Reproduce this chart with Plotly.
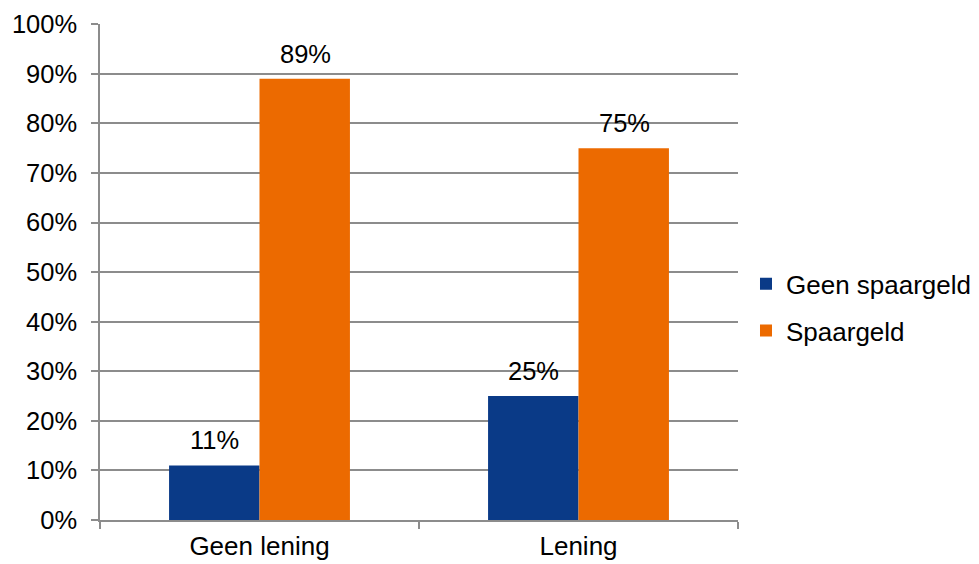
import plotly.graph_objects as go

# Survey shares: savings status split by whether a loan was taken
categories = ["Geen lening", "Lening"]
geen_spaargeld = [0.11, 0.25]
spaargeld = [0.89, 0.75]
series_names = ["Geen spaargeld", "Spaargeld"]
y_ticks = [i / 10 for i in range(11)]

BLUE = "#0a3a87"
ORANGE = "#ec6a00"
GRID = "#8c8c8c"
FONT = "Liberation Sans, Arial, sans-serif"

fig = go.Figure()
fig.add_trace(go.Bar(x=categories, y=geen_spaargeld, name=series_names[0],
                     marker=dict(color=BLUE, line=dict(width=0)),
                     legendgroup="a", offsetgroup="a"))
fig.add_trace(go.Bar(x=categories, y=spaargeld, name=series_names[1],
                     marker=dict(color=ORANGE, line=dict(width=0)),
                     legendgroup="b", offsetgroup="b"))

# Value labels above each bar
for j, vals in enumerate([geen_spaargeld, spaargeld]):
    for i, v in enumerate(vals):
        fig.add_annotation(
            x=i, y=v, xref="x", yref="y",
            xshift=(-45.5 if j == 0 else 45.5),
            yshift=9, yanchor="bottom", showarrow=False,
            text=f"{round(v * 100)}%",
            font=dict(family=FONT, size=25.5, color="#000000"),
        )

fig.update_layout(
    width=979, height=564,
    margin=dict(l=100, r=241, t=24, b=44),
    paper_bgcolor="white", plot_bgcolor="white",
    barmode="group", bargap=0.433, bargroupgap=0,
    font=dict(family=FONT, size=26, color="#000000"),
    showlegend=True,
    legend=dict(x=0.762, y=0.455, xref="container", yref="container",
                xanchor="left", yanchor="middle",
                traceorder="grouped", tracegroupgap=10,
                font=dict(family=FONT, size=26, color="#000000"),
                itemwidth=30, bgcolor="rgba(0,0,0,0)"),
)

fig.update_xaxes(
    type="category", showgrid=False, showline=True, linecolor=GRID, linewidth=1.5,
    ticks="outside", tickson="boundaries", ticklen=7, tickcolor=GRID, tickwidth=1.5,
    ticklabelstandoff=2, automargin=False,
    tickfont=dict(family=FONT, size=26, color="#000000"),
)
fig.update_yaxes(
    range=[0, 1.0005], tickvals=y_ticks, tickformat=".0%",
    showgrid=True, gridcolor=GRID, gridwidth=1.5,
    showline=True, linecolor=GRID, linewidth=1.5, zeroline=False,
    ticks="outside", ticklen=7, tickcolor=GRID, tickwidth=1.5,
    ticklabelstandoff=9, automargin=False,
    tickfont=dict(family=FONT, size=25.5, color="#000000"),
)

fig.write_html("out.html")
